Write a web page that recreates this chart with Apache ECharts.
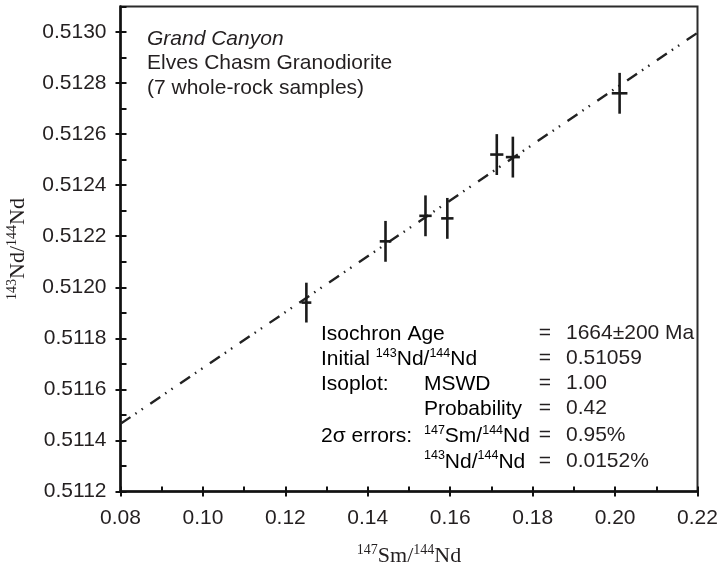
<!DOCTYPE html>
<html><head><meta charset="utf-8">
<script src="https://cdn.jsdelivr.net/npm/echarts@6/dist/echarts.min.js"></script>
<style>html,body{margin:0;padding:0;background:#fff}#c{width:717px;height:569px}</style>
</head><body><div id="c"></div>
<script>
// ---- data ----
const smNd      = [0.1251, 0.1443, 0.1540, 0.1593, 0.1713, 0.1752, 0.2011];   // 147Sm/144Nd
const ndNd      = [0.51194, 0.51218, 0.51228, 0.51227, 0.51252, 0.51251, 0.51276]; // 143Nd/144Nd
const smNdErr   = [0.0012, 0.0014, 0.0015, 0.0015, 0.0016, 0.0017, 0.0019];
const ndNdErr   = [0.000078, 0.00008, 0.00008, 0.00008, 0.00008, 0.00008, 0.00008];
const isochronX = [0.08, 0.22];
const isochronY = [0.511465, 0.512997];
const xRange = [0.08, 0.22], xMajor = 0.02, xMinor = 0.01;
const yRange = [0.5112, 0.5131], yMajor = 0.0002, yMinor = 0.0001;
const titleLines = ['Grand Canyon', 'Elves Chasm Granodiorite', '(7 whole-rock samples)'];
const statLabels = ['Isochron Age', 'Initial {s|143}Nd/{s|144}Nd', 'Isoplot:', '', '2σ errors:', ''];
const statSubLabels = ['', '', 'MSWD', 'Probability', '{s|147}Sm/{s|144}Nd', '{s|143}Nd/{s|144}Nd'];
const statValues = ['1664±200 Ma', '0.51059', '1.00', '0.42', '0.95%', '0.0152%'];

const INK = '#231f20';
const SANS = '"Liberation Sans", Arial, sans-serif';
const SERIF = '"Liberation Serif", "Times New Roman", serif';
const FS = 21;

const chart = echarts.init(document.getElementById('c'), null, {renderer: 'canvas'});
const gridRect = {left: 120.5, right: 19.5, top: 6.5, bottom: 77.5, containLabel: false, outerBoundsMode: 'none'};
const supRich = {
  n: {fontFamily: SANS, fontSize: FS, lineHeight: 23, color: INK, verticalAlign: 'bottom'},
  s: {fontFamily: SANS, fontSize: 12.5, lineHeight: 14, color: INK, verticalAlign: 'top'}
};
const serifRich = {
  n: {fontFamily: SERIF, fontSize: 22, lineHeight: 24, color: INK, verticalAlign: 'bottom'},
  s: {fontFamily: SERIF, fontSize: 14, lineHeight: 15, color: INK, verticalAlign: 'top'}
};

function wrapN(t) {
  return t.split(/(\{s\|[^}]*\})/).filter(p => p.length).map(p => p.startsWith('{s|') ? p : '{n|' + p + '}').join('');
}

const lineY = [333.5, 358.5, 383.5, 408.5, 435.5, 461];
const graphics = [];
titleLines.forEach((t, i) => {
  graphics.push({type: 'text', z: 10, style: {
    x: 147, y: [39, 63.5, 88][i], text: t, verticalAlign: 'middle',
    font: (i === 0 ? 'italic ' : '') + FS + 'px ' + SANS, fill: INK}});
});
statLabels.forEach((t, i) => {
  if (t) graphics.push({type: 'text', z: 10, style: {x: 321, y: lineY[i], text: wrapN(t), rich: supRich, verticalAlign: 'middle'}});
  if (statSubLabels[i]) graphics.push({type: 'text', z: 10, style: {x: 424, y: lineY[i], text: wrapN(statSubLabels[i]), rich: supRich, verticalAlign: 'middle'}});
  graphics.push({type: 'text', z: 10, style: {x: 545, y: lineY[i], text: '=', align: 'center', verticalAlign: 'middle', font: FS + 'px ' + SANS, fill: INK}});
  graphics.push({type: 'text', z: 10, style: {x: 566, y: lineY[i], text: statValues[i], verticalAlign: 'middle', font: FS + 'px ' + SANS, fill: INK}});
});

const points = smNd.map((x, i) => [x, ndNd[i], smNdErr[i], ndNdErr[i]]);

const option = {
  backgroundColor: '#ffffff',
  animation: false,
  grid: [
    Object.assign({show: true, borderColor: '#2b2b2b', borderWidth: 2, backgroundColor: 'transparent'}, gridRect),
    Object.assign({show: false}, gridRect)
  ],
  xAxis: [
    {type: 'value', gridIndex: 0, min: xRange[0], max: xRange[1], interval: xMajor,
     axisLine: {onZero: false, lineStyle: {color: '#111', width: 2.5}},
     axisTick: {inside: false, length: 5, lineStyle: {color: '#111', width: 2}},
     axisLabel: {margin: 16, fontFamily: SANS, fontSize: FS, color: INK, formatter: v => v.toFixed(2)},
     splitLine: {show: false},
     name: '{s|147}{n|Sm/}{s|144}{n|Nd}', nameLocation: 'middle', nameGap: 52,
     nameTextStyle: {rich: serifRich}},
    {type: 'value', gridIndex: 1, min: xRange[0], max: xRange[1], interval: xMinor,
     axisLine: {show: false, onZero: false},
     axisTick: {inside: true, length: 5, lineStyle: {color: '#111', width: 2}},
     axisLabel: {show: false}, splitLine: {show: false}}
  ],
  yAxis: [
    {type: 'value', gridIndex: 0, min: yRange[0], max: yRange[1], interval: yMajor,
     axisLine: {onZero: false, lineStyle: {color: '#111', width: 2.5}},
     axisTick: {inside: false, length: 5, lineStyle: {color: '#111', width: 2}},
     axisLabel: {margin: 14, fontFamily: SANS, fontSize: FS, color: INK, formatter: v => v.toFixed(4), showMaxLabel: false},
     splitLine: {show: false},
     name: '{s|143}{n|Nd/}{s|144}{n|Nd}', nameLocation: 'middle', nameGap: 91,
     nameTextStyle: {rich: serifRich}},
    {type: 'value', gridIndex: 1, min: yRange[0], max: yRange[1], interval: yMinor,
     axisLine: {show: false, onZero: false},
     axisTick: {inside: true, length: 6, lineStyle: {color: '#111', width: 2}},
     axisLabel: {show: false}, splitLine: {show: false}}
  ],
  graphic: graphics,
  series: [
    {type: 'line', xAxisIndex: 0, yAxisIndex: 0, z: 2,
     data: isochronX.map((x, i) => [x, isochronY[i]]),
     symbol: 'none', silent: true,
     lineStyle: {color: '#222', width: 2.4, type: [12, 6, 1.5, 6, 1.5, 9]}},
    {type: 'custom', xAxisIndex: 0, yAxisIndex: 0, z: 3,
     data: points, encode: {x: 0, y: 1},
     renderItem: function (params, api) {
       const x = api.value(0), y = api.value(1), ex = api.value(2), ey = api.value(3);
       const l = api.coord([x - ex, y]), r = api.coord([x + ex, y]);
       const t = api.coord([x, y + ey]), b = api.coord([x, y - ey]);
       const st = {stroke: '#1a1a1a', lineWidth: 2.6};
       return {type: 'group', children: [
         {type: 'line', shape: {x1: l[0], y1: l[1], x2: r[0], y2: r[1]}, style: st},
         {type: 'line', shape: {x1: t[0], y1: t[1], x2: b[0], y2: b[1]}, style: st}
       ]};
     }}
  ]
};
chart.setOption(option);
</script>
</body></html>
